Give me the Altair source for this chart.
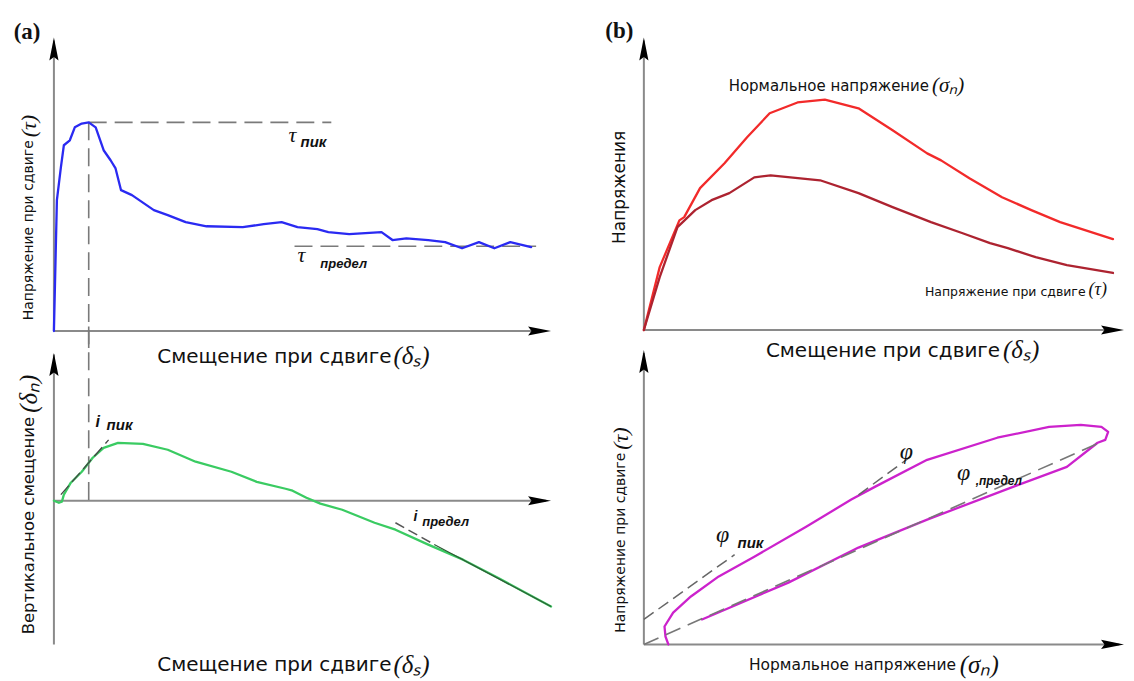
import altair as alt
import pandas as pd

# ---------------- data (schematic units: axis origin = 0, arrow tip = 100) ----------------
# (a) top: shear stress vs shear displacement
a1_x = [0, 0.6, 1.4, 2.0, 3.2, 4.2, 5.6, 7.0, 8.4, 10.0, 11.4, 12.4, 13.5, 15.7, 20.1, 22.9, 26.5,
        30.7, 38.0, 42.2, 45.8, 49.0, 53.0, 55.2, 59.4, 65.9, 68.1, 70.9, 75.3, 78.7, 82.1, 85.5,
        88.6, 91.8, 96.0]
a1_y = [0, 44.6, 55.8, 63.3, 65.0, 69.4, 70.7, 71.1, 69.4, 61.6, 58.2, 55.4, 48.0, 46.3, 41.2, 39.5,
        37.1, 35.7, 35.4, 36.4, 37.1, 35.4, 34.7, 33.7, 33.0, 33.7, 31.0, 31.6, 31.0, 30.3, 28.2,
        30.3, 28.2, 30.3, 28.6]
tau_peak = 71.1
tau_peak_x = 7.0
tau_res = 28.9

# (a) bottom: vertical displacement vs shear displacement
a2_x = [0, 1.0, 1.6, 2.0, 3.4, 5.6, 7.8, 10.0, 12.9, 17.9, 22.9, 28.5, 35.7, 40.8, 46.6, 48.0,
        50.8, 53.6, 58.0, 64.5, 68.7, 75.3, 82.3, 89.6, 100.0]
a2_y = [0, -1.4, -0.7, 4.1, 12.2, 19.6, 29.1, 35.8, 39.2, 38.5, 34.5, 26.4, 19.6, 12.8, 8.1, 6.8,
        2.0, -2.0, -6.1, -14.9, -19.6, -29.7, -39.9, -52.7, -71.6]

# (b) top: stresses vs shear displacement
b1_sig_x = [0, 3.3, 7.4, 8.4, 11.7, 16.8, 21.5, 26.2, 32.0, 37.7, 44.7, 51.8, 59.0, 61.9, 67.8,
            74.6, 80.7, 86.7, 97.7]
b1_sig_y = [0, 21.5, 37.5, 38.6, 48.5, 57.0, 65.9, 74.1, 77.8, 78.8, 75.8, 68.3, 60.4, 58.0, 51.9,
            45.4, 41.0, 36.9, 31.1]
b1_tau_x = [0, 3.3, 7.0, 10.7, 14.1, 17.8, 23.0, 26.4, 36.7, 44.7, 51.8, 59.8, 66.4, 72.1, 75.8,
            81.6, 88.1, 97.7]
b1_tau_y = [0, 18.1, 35.2, 41.0, 44.4, 46.8, 52.2, 52.9, 51.2, 46.8, 42.0, 36.9, 33.1, 29.7, 28.0,
            24.9, 22.2, 19.5]

# (b) bottom: stress path (shear vs normal stress)
b2_x = [5.1, 4.5, 4.3, 6.1, 9.8, 15.6, 23.0, 33.8, 43.2, 48.2, 59.0, 73.6, 84.4, 91.0, 95.3, 96.7,
        96.1, 94.5, 88.1, 73.6, 59.0, 44.7, 30.1, 12.1]
b2_y = [0, 2.7, 6.1, 10.8, 16.3, 23.1, 29.8, 40.0, 49.2, 53.6, 62.7, 70.2, 73.9, 74.6, 73.9, 72.2,
        69.5, 68.5, 60.3, 51.5, 42.4, 32.9, 21.0, 8.5]

# ---------------- styling ----------------
SANS = "DejaVu Sans"
SANS2 = "Liberation Sans"
SERIF = "Liberation Serif"
AXIS_C = "#8a8a8a"
DASH_C = "#7a7a7a"
ARROW_UP = "M0,0L0.4,2L0,1.7L-0.4,2Z"
ARROW_RIGHT = "M0,0L-2,-0.4L-1.7,0L-2,0.4Z"

W, H = 1120, 673


def scales(xr, yr):
    return (alt.Scale(domain=[0, 100], range=xr, nice=False, zero=False),
            alt.Scale(domain=[0, 100], range=yr, nice=False, zero=False))


def enc(sx, sy):
    return dict(x=alt.X("x:Q", scale=sx, axis=None), y=alt.Y("y:Q", scale=sy, axis=None))


def curve(xs, ys, sx, sy, color, width=2.3, dash=None, opacity=1.0):
    df = pd.DataFrame({"x": xs, "y": ys, "i": list(range(len(xs)))})
    kw = dict(color=color, strokeWidth=width, opacity=opacity, strokeCap="round", strokeJoin="round")
    if dash:
        kw["strokeDash"] = dash
        kw["strokeCap"] = "butt"
    return alt.Chart(df).mark_line(**kw).encode(order="i:Q", **enc(sx, sy))


def seg(x1, y1, x2, y2, sx, sy, color, width, dash=None):
    df = pd.DataFrame({"x": [x1], "y": [y1], "x2": [x2], "y2": [y2]})
    kw = dict(color=color, strokeWidth=width)
    if dash:
        kw["strokeDash"] = dash
    return alt.Chart(df).mark_rule(**kw).encode(x2="x2:Q", y2="y2:Q", **enc(sx, sy))


def arrow(x, y, shape, sx, sy):
    df = pd.DataFrame({"x": [x], "y": [y]})
    return alt.Chart(df).mark_point(shape=shape, size=529, filled=True, color="black",
                                    opacity=1, strokeWidth=0).encode(**enc(sx, sy))


def txt(t, x, y, sx, sy, font=SANS, size=16, style="normal", weight="normal", angle=0,
        align="center", color="#111"):
    df = pd.DataFrame({"x": [x], "y": [y], "t": [t]})
    return alt.Chart(df).mark_text(font=font, fontSize=size, fontStyle=style, fontWeight=weight,
                                   angle=angle, align=align, baseline="middle",
                                   color=color).encode(text="t:N", **enc(sx, sy))


def axes(sx, sy, ybottom=0):
    return [seg(0, ybottom, 0, 99, sx, sy, AXIS_C, 2), seg(0, 0, 99, 0, sx, sy, AXIS_C, 2),
            arrow(0, 100, ARROW_UP, sx, sy), arrow(100, 0, ARROW_RIGHT, sx, sy)]


DASH = [18, 8]

# ---------------- panel (a) top ----------------
sx, sy = scales([46, 544], [323, 29])
a1 = alt.layer(
    *axes(sx, sy),
    seg(tau_peak_x, tau_peak, 55.8, tau_peak, sx, sy, DASH_C, 1.6, DASH),
    seg(48.4, tau_res, 97.0, tau_res, sx, sy, DASH_C, 1.6, DASH),
    seg(tau_peak_x, tau_peak, tau_peak_x, -6, sx, sy, DASH_C, 1.6, DASH),
    curve(a1_x, a1_y, sx, sy, "#2a2af2"),
    txt("(a)", -5.4, 102.0, sx, sy, font=SERIF, size=23, weight="bold"),
    txt("Напряжение при сдвиге", -5.0, 65.0, sx, sy, size=14, angle=270, align="right"),
    txt("(τ)", -5.0, 66.0, sx, sy, font=SERIF, size=22, style="italic", angle=270, align="left"),
    txt("τ", 48.0, 66.7, sx, sy, font=SERIF, size=22, style="italic"),
    txt("пик", 49.6, 64.3, sx, sy, font=SANS2, size=15, style="italic", weight="bold", align="left"),
    txt("τ", 49.8, 25.9, sx, sy, font=SERIF, size=22, style="italic"),
    txt("предел", 53.6, 22.8, sx, sy, font=SANS2, size=13, style="italic", weight="bold", align="left"),
    txt("Смещение при сдвиге", 67.9, -8.8, sx, sy, size=20, align="right"),
    txt("(δₛ)", 68.3, -8.5, sx, sy, font=SERIF, size=25, style="italic", align="left"),
)

# ---------------- panel (a) bottom ----------------
sx, sy = scales([46, 544], [493, 345])
a2 = alt.layer(
    *axes(sx, sy, ybottom=-97.3),
    seg(tau_peak_x, 118, tau_peak_x, 0, sx, sy, DASH_C, 1.6, DASH),
    curve(a2_x, a2_y, sx, sy, "#3acb62"),
    seg(1.4, 4.1, 11.0, 41.2, sx, sy, "#444", 1.3, [12, 5]),
    seg(68.7, -14.9, 76.5, -29.6, sx, sy, "#555", 1.5, [10, 5]),
    seg(76.5, -29.6, 100.0, -71.6, sx, sy, "#2e5a35", 1.2),
    txt("Вертикальное смещение", -5.0, 56.8, sx, sy, size=16.5, angle=270, align="right"),
    txt("(δₙ)", -5.0, 59.5, sx, sy, font=SERIF, size=25, style="italic", angle=270, align="left"),
    txt("i", 8.8, 53.4, sx, sy, font=SANS2, size=16, style="italic", weight="bold"),
    txt("пик", 10.6, 51.4, sx, sy, font=SANS2, size=15, style="italic", weight="bold", align="left"),
    txt("i", 72.7, -10.8, sx, sy, font=SANS2, size=14, style="italic", weight="bold"),
    txt("предел", 74.1, -14.2, sx, sy, font=SANS2, size=13, style="italic", weight="bold", align="left"),
    txt("Смещение при сдвиге", 67.9, -111.5, sx, sy, size=20, align="right"),
    txt("(δₛ)", 68.3, -111.2, sx, sy, font=SERIF, size=25, style="italic", align="left"),
)

# ---------------- panel (b) top ----------------
BX = [637, 1118]
sx, sy = scales(BX, [322, 29])
b1 = alt.layer(
    *axes(sx, sy),
    curve(b1_sig_x, b1_sig_y, sx, sy, "#f22a2a"),
    curve(b1_tau_x, b1_tau_y, sx, sy, "#ad2330"),
    txt("(b)", -5.1, 102.4, sx, sy, font=SERIF, size=23, weight="bold"),
    txt("Нормальное напряжение", 59.4, 83.6, sx, sy, size=15, align="right"),
    txt("(σₙ)", 60.0, 83.6, sx, sy, font=SERIF, size=21, style="italic", align="left"),
    txt("Напряжения", -4.9, 48.8, sx, sy, size=17, angle=270),
    txt("Напряжение при сдвиге", 92.0, 13.0, sx, sy, size=12.5, align="right"),
    txt("(τ)", 92.6, 13.7, sx, sy, font=SERIF, size=18, style="italic", align="left"),
    txt("Смещение при сдвиге", 74.2, -7.2, sx, sy, size=20, align="right"),
    txt("(δₛ)", 74.8, -6.9, sx, sy, font=SERIF, size=25, style="italic", align="left"),
)

# ---------------- panel (b) bottom ----------------
sx, sy = scales(BX, [637, 342])
b2 = alt.layer(
    *axes(sx, sy),
    curve(b2_x, b2_y, sx, sy, "#cc22cc"),
    seg(0, 8.5, 18.9, 30.5, sx, sy, "#666", 1.5, [12, 6]),
    seg(44.7, 50.8, 55.5, 63.7, sx, sy, "#666", 1.5, [12, 6]),
    seg(0, 0, 95.3, 68.8, sx, sy, "#777", 1.6, [16, 8]),
    txt("φ", 16.4, 37.3, sx, sy, font=SERIF, size=24, style="italic"),
    txt("пик", 19.5, 34.6, sx, sy, font=SANS2, size=15, style="italic", weight="bold", align="left"),
    txt("φ", 54.7, 65.4, sx, sy, font=SERIF, size=24, style="italic"),
    txt("φ", 66.6, 58.3, sx, sy, font=SERIF, size=24, style="italic"),
    txt(",предел", 69.1, 55.6, sx, sy, font=SANS2, size=12, style="italic", weight="bold", align="left"),
    txt("Напряжение при сдвиге", -4.7, 65.1, sx, sy, size=14, angle=270, align="right"),
    txt("(τ)", -4.7, 66.1, sx, sy, font=SERIF, size=22, style="italic", angle=270, align="left"),
    txt("Нормальное напряжение", 65.0, -7.0, sx, sy, size=15.5, align="right"),
    txt("(σₙ)", 65.8, -7.0, sx, sy, font=SERIF, size=25, style="italic", align="left"),
)

chart = (
    alt.layer(a1, a2, b1, b2)
    .resolve_scale(x="independent", y="independent")
    .properties(width=W, height=H, padding=0, autosize=alt.AutoSizeParams(type="none"))
    .configure_view(stroke=None)
)

chart.save("out.html", embed_options={"renderer": "svg", "actions": False})
